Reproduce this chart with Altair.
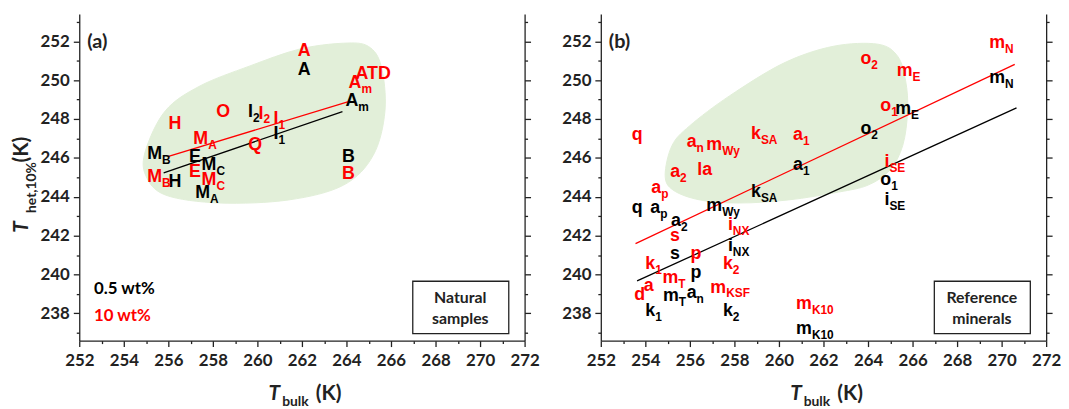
import altair as alt
import pandas as pd

# ---------------- data: panel (a) natural samples ----------------
a_main = ["A", "A", "ATD", "A", "A", "H", "O", "I", "I", "I", "I", "M", "Q", "M", "E", "M",
          "E", "M", "M", "H", "M", "B", "B"]
a_sub = ["", "", "", "m", "m", "", "", "2", "2", "1", "1", "A", "", "B", "", "C",
         "", "C", "B", "", "A", "", ""]
a_x = [262.1, 262.1, 265.2, 264.67, 264.53, 256.3, 258.46, 259.8, 260.27, 260.95, 260.95, 257.79,
       259.9, 255.72, 257.2, 258.16, 257.2, 258.16, 255.72, 256.3, 257.87, 264.09, 264.09]
a_y = [251.5, 250.5, 250.3, 249.86, 248.94, 247.75, 248.34, 248.34, 248.28, 248.0, 247.24, 246.98,
       246.64, 246.22, 246.05, 245.62, 245.28, 244.86, 245.03, 244.77, 244.18, 246.05, 245.16]
a_conc = ["10 wt%", "0.5 wt%", "10 wt%", "10 wt%", "0.5 wt%", "10 wt%", "10 wt%", "0.5 wt%",
          "10 wt%", "10 wt%", "0.5 wt%", "10 wt%", "10 wt%", "0.5 wt%", "0.5 wt%", "0.5 wt%",
          "10 wt%", "10 wt%", "10 wt%", "0.5 wt%", "0.5 wt%", "0.5 wt%", "10 wt%"]

a_fit_conc = ["10 wt%", "10 wt%", "0.5 wt%", "0.5 wt%"]
a_fit_x = [256.01, 264.09, 255.79, 263.82]
a_fit_y = [246.08, 248.89, 245.23, 248.38]

a_blob_x = [254.98, 255.87, 257.42, 259.64, 261.87, 263.87, 264.98, 265.56, 265.73, 265.2,
            263.87, 261.42, 258.31, 255.87, 254.98]
a_blob_y = [246.39, 248.43, 249.70, 250.72, 251.59, 251.9, 251.74, 250.72, 248.43, 246.13,
            244.6, 243.84, 243.68, 244.09, 245.11]

# ---------------- data: panel (b) reference minerals ----------------
b_main = ["q", "a", "m", "k", "a", "a", "la", "a", "a", "k", "q", "a", "m", "a", "i", "s", "s", "p",
          "i", "k", "k", "p", "m", "d", "a", "m", "a", "m", "k", "k", "m", "m",
          "o", "m", "o", "m", "o", "i", "o", "i", "m", "m"]
b_sub = ["", "n", "Wy", "SA", "1", "2", "", "1", "p", "SA", "", "p", "Wy", "2", "NX", "", "", "",
         "NX", "2", "1", "", "T", "", "", "T", "n", "KSF", "1", "2", "K10", "K10",
         "2", "E", "1", "E", "2", "SE", "1", "SE", "N", "N"]
b_x = [253.63, 256.30, 257.45, 259.19, 261.08, 255.56, 256.67, 261.08, 254.71, 259.19, 253.63,
       254.67, 257.45, 255.6, 257.93, 255.33, 255.33, 256.27, 257.93, 257.93, 254.44, 256.27,
       255.48, 253.75, 254.15, 255.5, 256.3, 257.63, 254.44, 257.93, 261.48, 261.48,
       264.15, 266.0, 265.04, 265.93, 264.15, 264.96, 265.04, 264.96, 270.15, 270.15]
b_y = [247.15, 246.81, 246.64, 247.24, 247.15, 245.28, 245.37, 245.62, 244.43, 244.26, 243.41,
       243.41, 243.50, 242.73, 242.56, 241.96, 241.03, 241.03, 241.45, 240.52, 240.52, 240.10,
       239.84, 238.94, 239.41, 238.9, 239.04, 239.33, 238.14, 238.14, 238.48, 237.2,
       251.07, 250.47, 248.68, 248.51, 247.49, 245.79, 244.86, 243.84, 251.91, 250.13]
b_conc = ["10 wt%", "10 wt%", "10 wt%", "10 wt%", "10 wt%", "10 wt%", "10 wt%", "0.5 wt%",
          "10 wt%", "0.5 wt%", "0.5 wt%", "0.5 wt%", "0.5 wt%", "0.5 wt%", "10 wt%", "10 wt%",
          "0.5 wt%", "10 wt%", "0.5 wt%", "10 wt%", "10 wt%", "0.5 wt%", "10 wt%", "10 wt%",
          "10 wt%", "0.5 wt%", "0.5 wt%", "10 wt%", "0.5 wt%", "0.5 wt%", "10 wt%", "0.5 wt%",
          "10 wt%", "10 wt%", "10 wt%", "0.5 wt%", "0.5 wt%", "10 wt%", "0.5 wt%", "0.5 wt%",
          "10 wt%", "0.5 wt%"]

b_fit_conc = ["10 wt%", "10 wt%", "0.5 wt%", "0.5 wt%"]
b_fit_x = [253.56, 270.59, 253.63, 270.67]
b_fit_y = [241.59, 250.81, 239.67, 248.57]

b_blob_x = [254.89, 255.2, 256.0, 257.78, 260.22, 262.44, 264.44, 265.33, 265.69, 265.78, 265.56,
            264.98, 264.0, 262.67, 260.44, 258.22, 256.44, 255.24]
b_blob_y = [245.11, 246.64, 247.66, 249.19, 250.88, 251.74, 251.85, 251.23, 249.96, 248.43, 246.64,
            245.37, 244.6, 244.24, 243.84, 243.68, 243.84, 244.35]

X_TICKS = list(range(252, 273))
Y_TICKS = list(range(237, 254))
X_DOMAIN = [252, 272]
Y_DOMAIN = [236.6, 253.4]
SERIES = ["0.5 wt%", "10 wt%"]
COLORS = ["#000000", "#ff0000"]

W, H = 450, 330
LABEL_FONT = "Liberation Sans"
AX_FONT = "Lato"
AX_COLOR = "#222222"
BLOB = "#e2efd9"

xs = alt.Scale(domain=X_DOMAIN, nice=False, zero=False)
ys = alt.Scale(domain=Y_DOMAIN, nice=False, zero=False)
cs = alt.Scale(domain=SERIES, range=COLORS)

minor_tick = {"condition": {"test": "datum.value % 2 != 0", "value": 3}, "value": 6}
even_only = "datum.value % 2 == 0 ? datum.label : ''"

x_bottom = alt.Axis(orient="bottom", values=X_TICKS, labelExpr=even_only, tickSize=minor_tick,
                    title=None, grid=False, labelPadding=6, labelOverlap=False, labelFlush=False)
y_left = alt.Axis(orient="left", values=Y_TICKS, labelExpr=even_only, tickSize=minor_tick,
                  title=None, grid=False, labelPadding=4, labelOverlap=False, labelFlush=False)
y_right = alt.Axis(orient="right", values=Y_TICKS, labels=False, tickSize=minor_tick,
                   title=None, grid=False)

dummy = pd.DataFrame({"d": [0]})


def txt(s, x, y, size=16, color=AX_COLOR, align="left", font=AX_FONT, style="normal",
        angle=0, baseline="middle"):
    return alt.Chart(dummy).mark_text(
        text=s, align=align, baseline=baseline, font=font, fontSize=size, fontWeight="bold",
        fontStyle=style, color=color, angle=angle
    ).encode(x=alt.value(x), y=alt.value(y))


def panel(main, sub, xv, yv, conc, fx, fy, fconc, bx, by, tag, box1, box2, ylabel):
    df = pd.DataFrame({"main": main, "sub": sub, "x": xv, "y": yv, "conc": conc})
    fit = pd.DataFrame({"fx": fx, "fy": fy, "conc": fconc})
    blob = pd.DataFrame({"bx": bx, "by": by, "i": list(range(len(bx)))})

    blob_l = alt.Chart(blob).mark_line(
        interpolate="cardinal-closed", fill=BLOB, stroke=BLOB, strokeWidth=1
    ).encode(
        x=alt.X("bx:Q", scale=xs, axis=x_bottom),
        y=alt.Y("by:Q", scale=ys, axis=y_left),
        order="i:Q",
    )
    fit_l = alt.Chart(fit).mark_line(strokeWidth=1.3).encode(
        x=alt.X("fx:Q", scale=xs, axis=None),
        y=alt.Y("fy:Q", scale=ys, axis=y_right),
        color=alt.Color("conc:N", scale=cs, legend=None),
    )
    enc = dict(
        x=alt.X("x:Q", scale=xs, axis=None),
        y=alt.Y("y:Q", scale=ys, axis=None),
        color=alt.Color("conc:N", scale=cs, legend=None),
    )
    main_l = alt.Chart(df).transform_filter("datum.sub != ''").mark_text(
        align="right", baseline="middle", font=LABEL_FONT, fontSize=18, fontWeight="bold"
    ).encode(text="main:N", **enc)
    plain_l = alt.Chart(df).transform_filter("datum.sub == ''").mark_text(
        align="center", baseline="middle", font=LABEL_FONT, fontSize=18, fontWeight="bold"
    ).encode(text="main:N", **enc)
    sub_l = alt.Chart(df).transform_filter("datum.sub != ''").mark_text(
        align="left", baseline="middle", dy=6, font=LABEL_FONT, fontSize=12, fontWeight="bold"
    ).encode(text="sub:N", **enc)

    box = alt.Chart(dummy).mark_rect(fill="white", stroke=AX_COLOR, strokeWidth=1.3).encode(
        x=alt.value(337), x2=alt.value(434), y=alt.value(270), y2=alt.value(323))

    layers = [blob_l, fit_l, main_l, plain_l, sub_l, box,
              txt(box1, 385, 287, size=16, align="center"),
              txt(box2, 385, 308, size=16, align="center"),
              txt(tag, 8, 28, size=20),
              # x-axis title  T_bulk (K)
              txt("T", 203, 384, size=21, align="right", style="italic"),
              txt("bulk", 205, 392, size=14),
              txt("(K)", 239, 384, size=21)]
    if ylabel:
        layers += [
            txt("0.5 wt%", 15, 278, size=17, color="#000000"),
            txt("10 wt%", 15, 305, size=17, color="#ff0000"),
            txt("T", -58, 221, size=21, style="italic", angle=270),
            txt("het,10%", -48, 201, size=14, angle=270),
            txt("(K)", -58, 150, size=21, angle=270),
        ]
    return alt.layer(*layers).resolve_axis(x="independent", y="independent").properties(
        width=W, height=H)


left = panel(a_main, a_sub, a_x, a_y, a_conc, a_fit_x, a_fit_y, a_fit_conc,
             a_blob_x, a_blob_y, "(a)", "Natural", "samples", True)
right = panel(b_main, b_sub, b_x, b_y, b_conc, b_fit_x, b_fit_y, b_fit_conc,
              b_blob_x, b_blob_y, "(b)", "Reference", "minerals", False)

chart = alt.hconcat(left, right, spacing=22).properties(
    padding={"left": 3, "top": 2, "right": 0, "bottom": 0}
).configure_view(stroke=None).configure_axis(
    labelFont=AX_FONT, labelFontSize=17, labelFontWeight="bold", labelColor=AX_COLOR,
    domainColor=AX_COLOR, tickColor=AX_COLOR, domainWidth=1.3, tickWidth=1.3
)

chart.save("out.html", embed_options={"renderer": "svg", "actions": False})
